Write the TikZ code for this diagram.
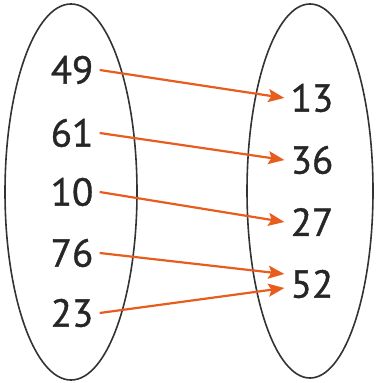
\documentclass[tikz,border=0pt]{standalone}
\usepackage{fontspec}
\setmainfont{PT Sans}
\newfontfamily\numfont{PT Sans}[FakeBold=1]
\usetikzlibrary{arrows.meta}
\colorlet{setline}{black!80}
\definecolor{maparrow}{RGB}{232,93,30}

\begin{document}
\begin{tikzpicture}[x=0.5pt,y=-0.5pt,
    num/.style={text=black!85, font=\numfont\fontsize{19.5}{21}\selectfont, inner sep=3pt},
    maps/.style={maparrow, line width=1.1pt, -{Stealth[length=8pt,width=6.5pt,inset=1.5pt]}}]
        \useasboundingbox (0,0) rectangle (376,383);
        % the two sets
        \draw[setline, line width=0.8pt] (71,192) ellipse [x radius=66, y radius=188];
        \draw[setline, line width=0.8pt] (310,191) ellipse [x radius=63, y radius=187];
        % domain
        \foreach \n/\y [count=\i] in {49/70,61/133,10/192,76/253,23/313}
        {
            \node[num] (d\i) at (72,\y) {\n};
        }
        % range
        \foreach \n/\y [count=\i] in {13/98,36/160,27/222,52/284}
        {
            \node[num] (r\i) at (312,\y) {\n};
        }
        % ~~~~~~~~~~~~~~~~~
        \draw[maps] (d1.east) -- (r1.west);
        \draw[maps] (d2.east) -- (r2.west);
        \draw[maps] (d3.east) -- (r3.west);
        \draw[maps] (d4.east) -- ([yshift=5pt]r4.west);
        \draw[maps] (d5.east) -- ([yshift=-2pt]r4.west);
    \end{tikzpicture}
\end{document}
